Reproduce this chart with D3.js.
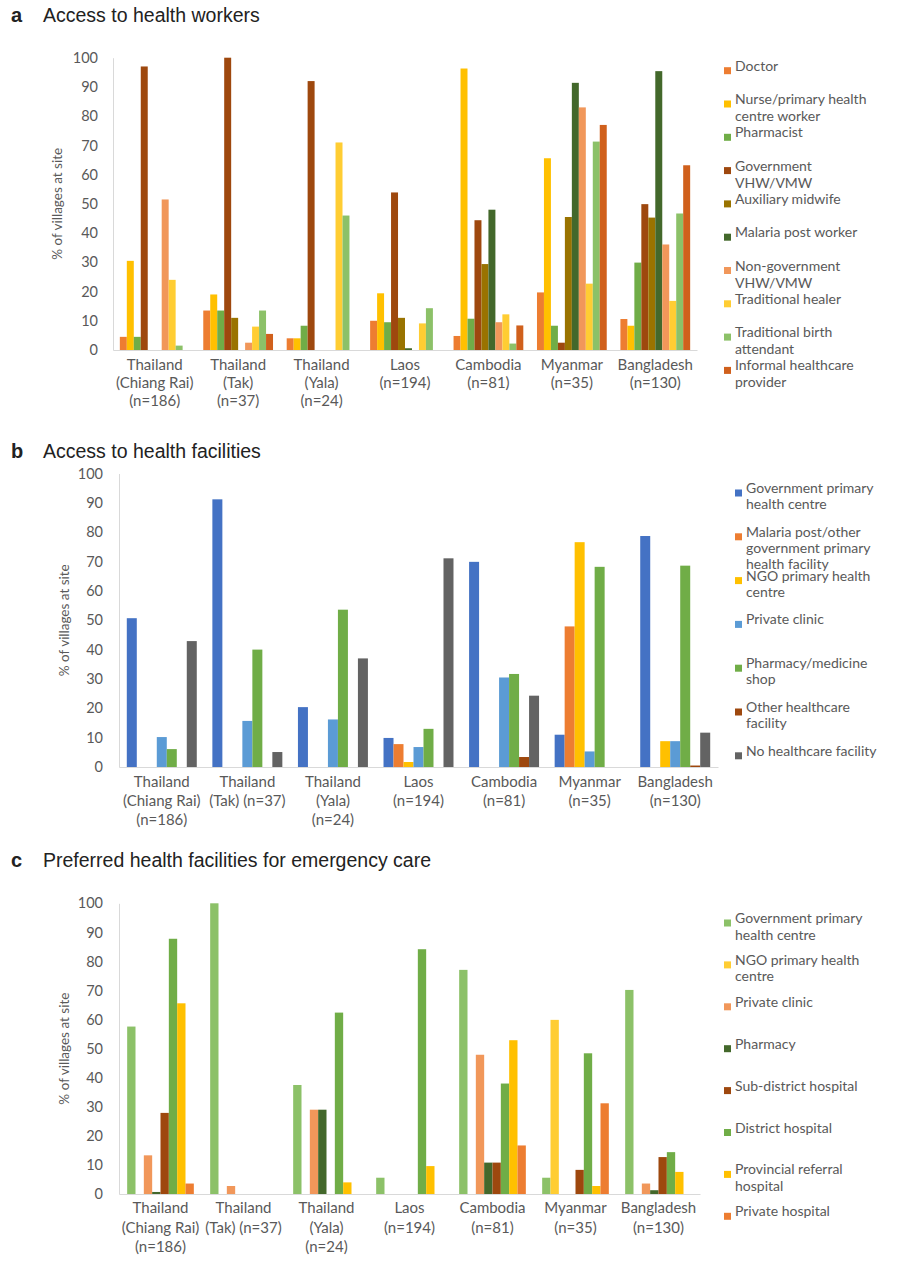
<!DOCTYPE html>
<html>
<head>
<meta charset="utf-8">
<script src="https://cdn.jsdelivr.net/npm/d3@7"></script>
<style>
  body { margin: 0; background: #fff; }
  svg text { font-family: Lato, "Open Sans", sans-serif; fill: #595959; }
  svg text.title { font-family: "Liberation Sans", Arial, sans-serif; fill: #222; }
</style>
</head>
<body>
<svg id="chart" width="913" height="1280"></svg>
<script>
// ---- categories (site labels, one array of lines per site)
const sitesA = [
  ["Thailand", "(Chiang Rai)", "(n=186)"],
  ["Thailand", "(Tak)", "(n=37)"],
  ["Thailand", "(Yala)", "(n=24)"],
  ["Laos", "(n=194)"],
  ["Cambodia", "(n=81)"],
  ["Myanmar", "(n=35)"],
  ["Bangladesh", "(n=130)"]
];
const sitesBC = [
  ["Thailand", "(Chiang Rai)", "(n=186)"],
  ["Thailand", "(Tak) (n=37)"],
  ["Thailand", "(Yala)", "(n=24)"],
  ["Laos", "(n=194)"],
  ["Cambodia", "(n=81)"],
  ["Myanmar", "(n=35)"],
  ["Bangladesh", "(n=130)"]
];
const yTicks = [0, 10, 20, 30, 40, 50, 60, 70, 80, 90, 100];

// ---- a: access to health workers (% of villages, site order as above)
const workerNames = ["Doctor", "Nurse/primary health\ncentre worker", "Pharmacist", "Government\nVHW/VMW",
  "Auxiliary midwife", "Malaria post worker", "Non-government\nVHW/VMW", "Traditional healer",
  "Traditional birth\nattendant", "Informal healthcare\nprovider"];
const doctor       = [4.5, 13.5, 4, 10, 4.8, 19.7, 10.6];
const nurse        = [30.5, 19, 4, 19.4, 96.3, 65.6, 8.3];
const pharmacist   = [4.5, 13.5, 8.3, 9.5, 10.7, 8.3, 29.9];
const govVHW       = [97, 100, 92, 53.9, 44.4, 2.5, 49.9];
const auxMidwife   = [0, 11, 0, 11, 29.4, 45.5, 45.3];
const malariaPost  = [0, 0, 0, 0.6, 48, 91.4, 95.4];
const nonGovVHW    = [51.5, 2.5, 0, 0, 9.5, 83, 36.1];
const tradHealer   = [24, 8, 71, 9.1, 12.2, 22.7, 16.8];
const tradBirth    = [1.5, 13.5, 46, 14.3, 2.2, 71.3, 46.7];
const informal     = [0, 5.5, 0, 0, 8.4, 77, 63.2];
const workerColors = ["#ed7d31", "#ffc000", "#70ad47", "#9e480e", "#997300", "#43682b",
  "#f1975a", "#ffcd33", "#8cc168", "#d0601c"];

// ---- b: access to health facilities
const facilityNames = ["Government primary\nhealth centre", "Malaria post/other\ngovernment primary\nhealth facility",
  "NGO primary health\ncentre", "Private clinic", "Pharmacy/medicine\nshop", "Other healthcare\nfacility",
  "No healthcare facility"];
const govPHC       = [50.7, 91.2, 20.4, 9.9, 69.9, 11, 78.7];
const malariaOther = [0, 0, 0, 7.8, 0, 47.9, 0];
const ngoPHC       = [0, 0, 0, 1.7, 0, 76.6, 8.8];
const privClinic   = [10.2, 15.7, 16.2, 6.8, 30.5, 5.3, 8.8];
const pharmacyShop = [6.1, 40, 53.6, 13, 31.7, 68.2, 68.6];
const otherFac     = [0, 0, 0, 0, 3.4, 0, 0.5];
const noFacility   = [42.9, 5.1, 37, 71.1, 24.3, 0, 11.7];
const facilityColors = ["#4472c4", "#ed7d31", "#ffc000", "#5b9bd5", "#70ad47", "#9e480e", "#636363"];

// ---- c: preferred facilities for emergency care
const emergencyNames = ["Government primary\nhealth centre", "NGO primary health\ncentre", "Private clinic",
  "Pharmacy", "Sub-district hospital", "District hospital", "Provincial referral\nhospital", "Private hospital"];
const emGovPHC     = [57.6, 100, 37.5, 5.6, 77.1, 5.6, 70.2];
const emNGO        = [0, 0, 0, 0, 0, 59.9, 0];
const emPrivClinic = [13.3, 2.75, 29, 0, 47.9, 0, 3.6];
const emPharmacy   = [0.7, 0, 29, 0, 10.8, 0, 1.3];
const emSubDist    = [27.9, 0, 0, 0, 10.8, 8.3, 12.7];
const emDistrict   = [87.8, 0, 62.4, 84.2, 38, 48.4, 14.4];
const emProvincial = [65.6, 0, 4, 9.6, 52.9, 2.75, 7.6];
const emPrivHosp   = [3.6, 0, 0, 0, 16.7, 31.2, 0];
const emergencyColors = ["#8cc168", "#ffcd33", "#f1975a", "#43682b", "#9e480e", "#70ad47", "#ffc000", "#ed7d31"];

const svg = d3.select('#chart');

function drawPanel(p) {
  const g = svg.append('g');

  g.append('text').attr('class', 'title')
    .attr('x', 11).attr('y', p.titleY)
    .attr('font-size', 20).attr('font-weight', 'bold')
    .text(p.letter);
  g.append('text').attr('class', 'title')
    .attr('x', 43).attr('y', p.titleY)
    .attr('font-size', 19.5)
    .text(p.title);

  const x0 = d3.scaleBand().domain(d3.range(p.sites.length)).range([p.left, p.right]);
  const x1 = d3.scaleBand().domain(d3.range(p.series.length))
    .range([0, x0.bandwidth()]).paddingOuter(p.pad);
  const y = d3.scaleLinear().domain([0, 100]).range([p.bottom, p.top]);

  // bars, one group per series
  p.series.forEach((vals, s) => {
    g.append('g').selectAll('rect')
      .data(vals)
      .join('rect')
      .attr('x', (d, i) => x0(i) + x1(s))
      .attr('width', x1.bandwidth())
      .attr('y', d => y(d))
      .attr('height', d => y(0) - y(d))
      .attr('fill', p.colors[s]);
  });

  // y axis
  const ya = g.append('g')
    .attr('transform', `translate(${p.left},0)`)
    .call(d3.axisLeft(y).tickValues(yTicks).tickSize(0).tickPadding(p.tickPad));
  ya.select('.domain').attr('stroke', '#d9d9d9');
  ya.selectAll('text').attr('font-size', 14.5).attr('fill', '#595959');

  // x axis with multi-line labels
  const xa = g.append('g')
    .attr('transform', `translate(0,${p.bottom})`)
    .call(d3.axisBottom(x0).tickSize(0).tickFormat(''));
  xa.select('.domain').attr('stroke', '#d9d9d9');
  xa.selectAll('.tick text').each(function (i) {
    const t = d3.select(this).attr('y', p.labelOff).attr('dy', '0.35em')
      .attr('font-size', 15).attr('fill', '#595959');
    p.sites[i].forEach((line, k) => {
      t.append('tspan').attr('x', 0).attr('dy', k ? p.labelLine : 0).text(line);
    });
  });

  // axis title
  g.append('text')
    .attr('transform', `translate(${p.ylabX},${(y(0) + y(100)) / 2}) rotate(-90)`)
    .attr('text-anchor', 'middle').attr('dy', '0.35em')
    .attr('font-size', 13.5)
    .text('% of villages at site');

  // legend
  const lg = g.append('g');
  p.names.forEach((name, i) => {
    const ly = p.legY + i * p.legStep;
    lg.append('rect')
      .attr('x', p.legX).attr('y', ly - 3.5)
      .attr('width', 7).attr('height', 7)
      .attr('fill', p.colors[i]);
    const t = lg.append('text')
      .attr('x', p.legX + 11).attr('y', ly).attr('dy', '0.35em')
      .attr('font-size', 14);
    name.split('\n').forEach((line, k) => {
      t.append('tspan').attr('x', p.legX + 11).attr('dy', k ? p.legLine : 0).text(line);
    });
  });
}

drawPanel({
  letter: 'a', title: 'Access to health workers', titleY: 22,
  sites: sitesA,
  series: [doctor, nurse, pharmacist, govVHW, auxMidwife, malariaPost, nonGovVHW, tradHealer, tradBirth, informal],
  names: workerNames, colors: workerColors,
  left: 113, right: 697, top: 57.7, bottom: 350, pad: 0.98, tickPad: 15,
  labelOff: 20, labelLine: 18, ylabX: 57,
  legX: 724, legY: 70.7, legStep: 33.3, legLine: 17
});

drawPanel({
  letter: 'b', title: 'Access to health facilities', titleY: 458,
  sites: sitesBC,
  series: [govPHC, malariaOther, ngoPHC, privClinic, pharmacyShop, otherFac, noFacility],
  names: facilityNames, colors: facilityColors,
  left: 119, right: 718, top: 473.5, bottom: 767, pad: 0.78, tickPad: 16,
  labelOff: 20, labelLine: 19, ylabX: 64,
  legX: 735, legY: 493, legStep: 43.8, legLine: 16
});

drawPanel({
  letter: 'c', title: 'Preferred health facilities for emergency care', titleY: 867,
  sites: sitesBC,
  series: [emGovPHC, emNGO, emPrivClinic, emPharmacy, emSubDist, emDistrict, emProvincial, emPrivHosp],
  names: emergencyNames, colors: emergencyColors,
  left: 119, right: 700, top: 903.3, bottom: 1194, pad: 0.98, tickPad: 16,
  labelOff: 19, labelLine: 19.5, ylabX: 64,
  legX: 724, legY: 923, legStep: 41.9, legLine: 16.5
});
</script>
</body>
</html>
